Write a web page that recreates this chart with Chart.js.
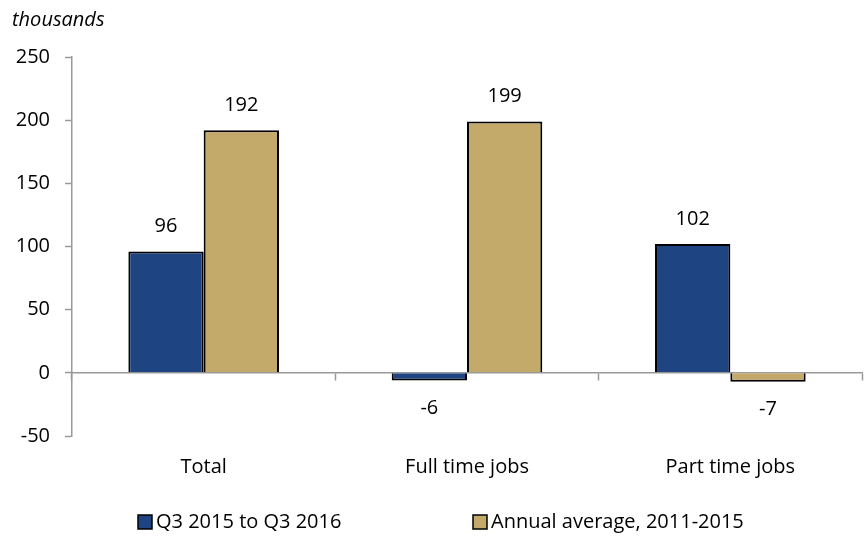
<!DOCTYPE html>
<html lang="en">
<head>
  <meta charset="UTF-8" />
  <title>Employment change</title>
  <style>
    html, body { margin: 0; padding: 0; background: #fff; }
    #wrap { width: 864px; height: 537px; }
  </style>
</head>
<body>
  <div id="wrap"><canvas id="myChart"></canvas></div>

  <script src="https://cdn.jsdelivr.net/npm/chart.js"></script>
  <script>
    const categories = ['Total', 'Full time jobs', 'Part time jobs'];
    const recentValues = [96, -6, 102];
    const averageValues = [192, 199, -7];
    const seriesNames = ['Q3 2015 to Q3 2016', 'Annual average, 2011-2015'];
    const yTicks = [-50, 0, 50, 100, 150, 200, 250];

    const BLUE = '#1e4481';
    const TAN = '#c4aa6a';
    const AXIS = '#999999';
    const FONT = "'Open Sans', 'Noto Sans', sans-serif";

    // value labels above / below each bar
    const valueLabels = {
      id: 'valueLabels',
      afterDatasetsDraw(chart) {
        const ctx = chart.ctx;
        ctx.save();
        ctx.font = '20px ' + FONT;
        ctx.fillStyle = '#000';
        ctx.textAlign = 'center';
        ctx.textBaseline = 'middle';
        chart.data.datasets.forEach((ds, i) => {
          chart.getDatasetMeta(i).data.forEach((bar, j) => {
            const v = ds.data[j];
            const y = v >= 0 ? bar.y - 25 : bar.y + 28;
            ctx.fillText(String(v), bar.x, y);
          });
        });
        ctx.restore();
      }
    };

    // legend drawn by hand so the two items can sit far apart
    const spacedLegend = {
      id: 'spacedLegend',
      afterDraw(chart) {
        const ctx = chart.ctx;
        const left = chart.chartArea.left;
        const xs = [left + 66, left + 401];
        const y = 522;
        ctx.save();
        ctx.font = '20px ' + FONT;
        ctx.textBaseline = 'middle';
        ctx.textAlign = 'left';
        chart.data.datasets.forEach((ds, i) => {
          ctx.fillStyle = ds.backgroundColor;
          ctx.fillRect(xs[i], y - 7, 14, 14);
          ctx.strokeStyle = '#000';
          ctx.lineWidth = 1.5;
          ctx.strokeRect(xs[i], y - 7, 14, 14);
          ctx.fillStyle = '#000';
          ctx.fillText(ds.label, xs[i] + 18, y);
        });
        ctx.restore();
      }
    };

    const ctx = document.getElementById('myChart');

    new Chart(ctx, {
      type: 'bar',
      data: {
        labels: categories,
        datasets: [
          {
            label: seriesNames[0],
            data: recentValues,
            backgroundColor: BLUE,
            borderColor: '#000',
            borderWidth: 2
          },
          {
            label: seriesNames[1],
            data: averageValues,
            backgroundColor: TAN,
            borderColor: '#000',
            borderWidth: 2
          }
        ]
      },
      options: {
        responsive: true,
        maintainAspectRatio: false,
        animation: false,
        datasets: {
          bar: { categoryPercentage: 0.572, barPercentage: 1 }
        },
        layout: { padding: { top: 8, left: 12, right: 2, bottom: 0 } },
        plugins: {
          legend: { display: false },
          tooltip: { enabled: false },
          title: {
            display: true,
            text: 'thousands',
            align: 'start',
            color: '#000',
            font: { family: FONT, size: 20, style: 'italic', weight: 'normal' },
            padding: { top: 0, bottom: 25 }
          }
        },
        scales: {
          x: {
            type: 'category',
            position: { y: 0 },
            offset: true,
            ticks: { display: false },
            grid: {
              offset: true,
              drawOnChartArea: false,
              drawTicks: true,
              tickLength: 7,
              tickColor: AXIS,
              tickWidth: 1.5
            },
            border: { color: AXIS, width: 1.5 }
          },
          x2: {
            type: 'category',
            position: 'bottom',
            offset: true,
            grid: { display: false, drawTicks: false },
            border: { display: false },
            ticks: {
              color: '#000',
              padding: 19,
              font: { family: FONT, size: 20 }
            },
            afterFit(scale) { scale.height = 101; }
          },
          y: {
            min: -50,
            max: 250,
            afterBuildTicks(scale) {
              scale.ticks = yTicks.map(v => ({ value: v }));
            },
            ticks: {
              color: '#000',
              padding: 15,
              font: { family: FONT, size: 20 }
            },
            grid: {
              drawOnChartArea: false,
              drawTicks: true,
              tickLength: 7,
              tickColor: AXIS,
              tickWidth: 1.5
            },
            border: { color: AXIS, width: 1.5 },
            afterFit(scale) { scale.width = 60; }
          }
        }
      },
      plugins: [valueLabels, spacedLegend]
    });
  </script>
</body>
</html>
